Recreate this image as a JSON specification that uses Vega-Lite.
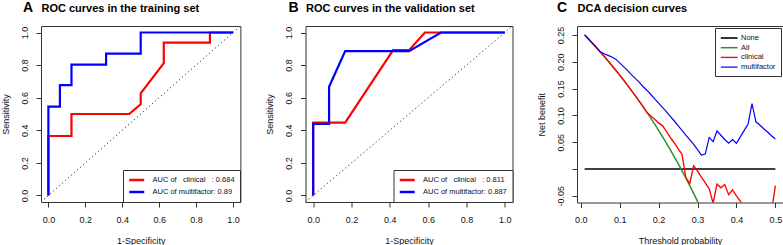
{
  "$schema": "https://vega.github.io/schema/vega-lite/v6.json",
  "padding": {"left": 0, "top": 0, "right": 0, "bottom": 0},
  "background": "white",
  "spacing": 64.5,
  "bounds": "flush",
  "config": {
    "font": "Liberation Sans",
    "view": {"stroke": "#333333", "strokeWidth": 1},
    "axis": {"grid": false, "domain": false, "tickColor": "#333333", "tickSize": 5, "labelFontSize": 9, "labelColor": "#111111", "titleFontSize": 9, "titleFontWeight": "normal", "titleColor": "#111111", "labelFont": "Liberation Sans", "titleFont": "Liberation Sans", "labelOverlap": false},
    "axisX": {"labelPadding": 8, "titlePadding": 12, "labelFlush": false},
    "axisY": {"labelAngle": 270, "labelAlign": "center", "labelBaseline": "bottom", "labelPadding": 7, "titlePadding": 10, "labelFlush": false},
    "title": {"anchor": "start", "frame": "group", "font": "Liberation Sans", "fontSize": 14, "fontWeight": "bold", "color": "#000000", "offset": -8, "dy": 5},
    "legend": {"title": null, "labelFont": "Liberation Sans", "labelColor": "#111111", "strokeColor": "#333333", "fillColor": "white", "padding": 5, "labelLimit": 300}
  },
  "datasets": {
    "diag": [{"fpr": -0.04, "tpr": -0.04}, {"fpr": 1.04, "tpr": 1.04}],
    "rocA": [
      {"model": "AUC of\u00a0\u00a0\u00a0clinical\u00a0\u00a0\u00a0: 0.684", "i": 0, "fpr": 0, "tpr": 0},
      {"model": "AUC of\u00a0\u00a0\u00a0clinical\u00a0\u00a0\u00a0: 0.684", "i": 1, "fpr": 0, "tpr": 0.365},
      {"model": "AUC of\u00a0\u00a0\u00a0clinical\u00a0\u00a0\u00a0: 0.684", "i": 2, "fpr": 0.125, "tpr": 0.365},
      {"model": "AUC of\u00a0\u00a0\u00a0clinical\u00a0\u00a0\u00a0: 0.684", "i": 3, "fpr": 0.125, "tpr": 0.5},
      {"model": "AUC of\u00a0\u00a0\u00a0clinical\u00a0\u00a0\u00a0: 0.684", "i": 4, "fpr": 0.4375, "tpr": 0.5},
      {"model": "AUC of\u00a0\u00a0\u00a0clinical\u00a0\u00a0\u00a0: 0.684", "i": 5, "fpr": 0.5, "tpr": 0.56},
      {"model": "AUC of\u00a0\u00a0\u00a0clinical\u00a0\u00a0\u00a0: 0.684", "i": 6, "fpr": 0.5, "tpr": 0.627},
      {"model": "AUC of\u00a0\u00a0\u00a0clinical\u00a0\u00a0\u00a0: 0.684", "i": 7, "fpr": 0.625, "tpr": 0.812},
      {"model": "AUC of\u00a0\u00a0\u00a0clinical\u00a0\u00a0\u00a0: 0.684", "i": 8, "fpr": 0.625, "tpr": 0.938},
      {"model": "AUC of\u00a0\u00a0\u00a0clinical\u00a0\u00a0\u00a0: 0.684", "i": 9, "fpr": 0.875, "tpr": 0.938},
      {"model": "AUC of\u00a0\u00a0\u00a0clinical\u00a0\u00a0\u00a0: 0.684", "i": 10, "fpr": 0.875, "tpr": 1},
      {"model": "AUC of\u00a0\u00a0\u00a0clinical\u00a0\u00a0\u00a0: 0.684", "i": 11, "fpr": 1, "tpr": 1},
      {"model": "AUC of multifactor: 0.89", "i": 0, "fpr": 0, "tpr": 0},
      {"model": "AUC of multifactor: 0.89", "i": 1, "fpr": 0, "tpr": 0.545},
      {"model": "AUC of multifactor: 0.89", "i": 2, "fpr": 0.0625, "tpr": 0.545},
      {"model": "AUC of multifactor: 0.89", "i": 3, "fpr": 0.0625, "tpr": 0.677},
      {"model": "AUC of multifactor: 0.89", "i": 4, "fpr": 0.125, "tpr": 0.677},
      {"model": "AUC of multifactor: 0.89", "i": 5, "fpr": 0.125, "tpr": 0.803},
      {"model": "AUC of multifactor: 0.89", "i": 6, "fpr": 0.3125, "tpr": 0.803},
      {"model": "AUC of multifactor: 0.89", "i": 7, "fpr": 0.3125, "tpr": 0.87},
      {"model": "AUC of multifactor: 0.89", "i": 8, "fpr": 0.5, "tpr": 0.87},
      {"model": "AUC of multifactor: 0.89", "i": 9, "fpr": 0.5, "tpr": 1},
      {"model": "AUC of multifactor: 0.89", "i": 10, "fpr": 1, "tpr": 1}
    ],
    "rocB": [
      {"model": "AUC of\u00a0\u00a0\u00a0clinical\u00a0\u00a0\u00a0: 0.811", "i": 0, "fpr": 0, "tpr": 0},
      {"model": "AUC of\u00a0\u00a0\u00a0clinical\u00a0\u00a0\u00a0: 0.811", "i": 1, "fpr": 0, "tpr": 0.447},
      {"model": "AUC of\u00a0\u00a0\u00a0clinical\u00a0\u00a0\u00a0: 0.811", "i": 2, "fpr": 0.167, "tpr": 0.447},
      {"model": "AUC of\u00a0\u00a0\u00a0clinical\u00a0\u00a0\u00a0: 0.811", "i": 3, "fpr": 0.417, "tpr": 0.892},
      {"model": "AUC of\u00a0\u00a0\u00a0clinical\u00a0\u00a0\u00a0: 0.811", "i": 4, "fpr": 0.5, "tpr": 0.892},
      {"model": "AUC of\u00a0\u00a0\u00a0clinical\u00a0\u00a0\u00a0: 0.811", "i": 5, "fpr": 0.583, "tpr": 1},
      {"model": "AUC of\u00a0\u00a0\u00a0clinical\u00a0\u00a0\u00a0: 0.811", "i": 6, "fpr": 1, "tpr": 1},
      {"model": "AUC of multifactor: 0.887", "i": 0, "fpr": 0, "tpr": 0},
      {"model": "AUC of multifactor: 0.887", "i": 1, "fpr": 0, "tpr": 0.44},
      {"model": "AUC of multifactor: 0.887", "i": 2, "fpr": 0.083, "tpr": 0.44},
      {"model": "AUC of multifactor: 0.887", "i": 3, "fpr": 0.083, "tpr": 0.667},
      {"model": "AUC of multifactor: 0.887", "i": 4, "fpr": 0.167, "tpr": 0.886},
      {"model": "AUC of multifactor: 0.887", "i": 5, "fpr": 0.5, "tpr": 0.886},
      {"model": "AUC of multifactor: 0.887", "i": 6, "fpr": 0.667, "tpr": 1},
      {"model": "AUC of multifactor: 0.887", "i": 7, "fpr": 1, "tpr": 1}
    ],
    "dcaNone": [{"s": "None", "t": 0.01, "nb": 0}, {"s": "None", "t": 0.5, "nb": 0}],
    "dca": [
      {"s": "All", "t": 0.01, "nb": 0.2502}, {"s": "All", "t": 0.02, "nb": 0.2425}, {"s": "All", "t": 0.03, "nb": 0.2347}, {"s": "All", "t": 0.04, "nb": 0.2268}, {"s": "All", "t": 0.05, "nb": 0.2186}, {"s": "All", "t": 0.06, "nb": 0.2103}, {"s": "All", "t": 0.07, "nb": 0.2018}, {"s": "All", "t": 0.08, "nb": 0.1932}, {"s": "All", "t": 0.09, "nb": 0.1843}, {"s": "All", "t": 0.10, "nb": 0.1752}, {"s": "All", "t": 0.11, "nb": 0.1660}, {"s": "All", "t": 0.12, "nb": 0.1565}, {"s": "All", "t": 0.13, "nb": 0.1468}, {"s": "All", "t": 0.14, "nb": 0.1369}, {"s": "All", "t": 0.15, "nb": 0.1267}, {"s": "All", "t": 0.16, "nb": 0.1163}, {"s": "All", "t": 0.17, "nb": 0.1057}, {"s": "All", "t": 0.18, "nb": 0.0948}, {"s": "All", "t": 0.19, "nb": 0.0836}, {"s": "All", "t": 0.20, "nb": 0.0721}, {"s": "All", "t": 0.21, "nb": 0.0604}, {"s": "All", "t": 0.22, "nb": 0.0483}, {"s": "All", "t": 0.23, "nb": 0.0360}, {"s": "All", "t": 0.24, "nb": 0.0233}, {"s": "All", "t": 0.25, "nb": 0.0103}, {"s": "All", "t": 0.26, "nb": -0.0031}, {"s": "All", "t": 0.27, "nb": -0.0168}, {"s": "All", "t": 0.28, "nb": -0.0310}, {"s": "All", "t": 0.29, "nb": -0.0455}, {"s": "All", "t": 0.30, "nb": -0.0604}, {"s": "All", "t": 0.31, "nb": -0.0758},
      {"s": "clinical", "t": 0.01, "nb": 0.2502}, {"s": "clinical", "t": 0.02, "nb": 0.2425}, {"s": "clinical", "t": 0.03, "nb": 0.2347}, {"s": "clinical", "t": 0.04, "nb": 0.2268}, {"s": "clinical", "t": 0.05, "nb": 0.2186}, {"s": "clinical", "t": 0.06, "nb": 0.2103}, {"s": "clinical", "t": 0.07, "nb": 0.2018}, {"s": "clinical", "t": 0.08, "nb": 0.1932}, {"s": "clinical", "t": 0.09, "nb": 0.1843}, {"s": "clinical", "t": 0.10, "nb": 0.1752}, {"s": "clinical", "t": 0.11, "nb": 0.1660}, {"s": "clinical", "t": 0.12, "nb": 0.1565}, {"s": "clinical", "t": 0.13, "nb": 0.1468}, {"s": "clinical", "t": 0.14, "nb": 0.1369}, {"s": "clinical", "t": 0.15, "nb": 0.1267}, {"s": "clinical", "t": 0.16, "nb": 0.1163}, {"s": "clinical", "t": 0.17, "nb": 0.1057}, {"s": "clinical", "t": 0.18, "nb": 0.099}, {"s": "clinical", "t": 0.19, "nb": 0.093}, {"s": "clinical", "t": 0.20, "nb": 0.086}, {"s": "clinical", "t": 0.21, "nb": 0.081}, {"s": "clinical", "t": 0.22, "nb": 0.070}, {"s": "clinical", "t": 0.23, "nb": 0.059}, {"s": "clinical", "t": 0.24, "nb": 0.049}, {"s": "clinical", "t": 0.25, "nb": 0.038}, {"s": "clinical", "t": 0.26, "nb": 0.028}, {"s": "clinical", "t": 0.27, "nb": -0.016}, {"s": "clinical", "t": 0.28, "nb": -0.027}, {"s": "clinical", "t": 0.29, "nb": 0.006}, {"s": "clinical", "t": 0.30, "nb": -0.004}, {"s": "clinical", "t": 0.31, "nb": -0.015}, {"s": "clinical", "t": 0.32, "nb": -0.026}, {"s": "clinical", "t": 0.33, "nb": -0.037}, {"s": "clinical", "t": 0.34, "nb": -0.064}, {"s": "clinical", "t": 0.35, "nb": -0.028}, {"s": "clinical", "t": 0.36, "nb": -0.035}, {"s": "clinical", "t": 0.37, "nb": -0.029}, {"s": "clinical", "t": 0.38, "nb": -0.048}, {"s": "clinical", "t": 0.39, "nb": -0.039}, {"s": "clinical", "t": 0.40, "nb": -0.050}, {"s": "clinical", "t": 0.41, "nb": -0.060}, {"s": "clinical", "t": 0.42, "nb": -0.075}, {"s": "clinical", "t": 0.43, "nb": -0.080}, {"s": "clinical", "t": 0.44, "nb": -0.064}, {"s": "clinical", "t": 0.45, "nb": -0.080}, {"s": "clinical", "t": 0.46, "nb": -0.080}, {"s": "clinical", "t": 0.47, "nb": -0.064}, {"s": "clinical", "t": 0.48, "nb": -0.080}, {"s": "clinical", "t": 0.49, "nb": -0.080}, {"s": "clinical", "t": 0.50, "nb": -0.031},
      {"s": "multifactor", "t": 0.01, "nb": 0.2502}, {"s": "multifactor", "t": 0.02, "nb": 0.2425}, {"s": "multifactor", "t": 0.03, "nb": 0.2347}, {"s": "multifactor", "t": 0.04, "nb": 0.2268}, {"s": "multifactor", "t": 0.05, "nb": 0.2186}, {"s": "multifactor", "t": 0.06, "nb": 0.215}, {"s": "multifactor", "t": 0.07, "nb": 0.212}, {"s": "multifactor", "t": 0.08, "nb": 0.209}, {"s": "multifactor", "t": 0.09, "nb": 0.205}, {"s": "multifactor", "t": 0.10, "nb": 0.198}, {"s": "multifactor", "t": 0.11, "nb": 0.191}, {"s": "multifactor", "t": 0.12, "nb": 0.184}, {"s": "multifactor", "t": 0.13, "nb": 0.176}, {"s": "multifactor", "t": 0.14, "nb": 0.169}, {"s": "multifactor", "t": 0.15, "nb": 0.162}, {"s": "multifactor", "t": 0.16, "nb": 0.154}, {"s": "multifactor", "t": 0.17, "nb": 0.147}, {"s": "multifactor", "t": 0.18, "nb": 0.139}, {"s": "multifactor", "t": 0.19, "nb": 0.131}, {"s": "multifactor", "t": 0.20, "nb": 0.123}, {"s": "multifactor", "t": 0.21, "nb": 0.115}, {"s": "multifactor", "t": 0.22, "nb": 0.107}, {"s": "multifactor", "t": 0.23, "nb": 0.098}, {"s": "multifactor", "t": 0.24, "nb": 0.090}, {"s": "multifactor", "t": 0.25, "nb": 0.081}, {"s": "multifactor", "t": 0.26, "nb": 0.072}, {"s": "multifactor", "t": 0.27, "nb": 0.063}, {"s": "multifactor", "t": 0.28, "nb": 0.055}, {"s": "multifactor", "t": 0.29, "nb": 0.046}, {"s": "multifactor", "t": 0.30, "nb": 0.036}, {"s": "multifactor", "t": 0.31, "nb": 0.026}, {"s": "multifactor", "t": 0.32, "nb": 0.028}, {"s": "multifactor", "t": 0.33, "nb": 0.059}, {"s": "multifactor", "t": 0.34, "nb": 0.051}, {"s": "multifactor", "t": 0.35, "nb": 0.071}, {"s": "multifactor", "t": 0.36, "nb": 0.063}, {"s": "multifactor", "t": 0.37, "nb": 0.055}, {"s": "multifactor", "t": 0.38, "nb": 0.048}, {"s": "multifactor", "t": 0.39, "nb": 0.055}, {"s": "multifactor", "t": 0.40, "nb": 0.048}, {"s": "multifactor", "t": 0.41, "nb": 0.060}, {"s": "multifactor", "t": 0.42, "nb": 0.072}, {"s": "multifactor", "t": 0.43, "nb": 0.084}, {"s": "multifactor", "t": 0.44, "nb": 0.122}, {"s": "multifactor", "t": 0.45, "nb": 0.088}, {"s": "multifactor", "t": 0.46, "nb": 0.082}, {"s": "multifactor", "t": 0.47, "nb": 0.075}, {"s": "multifactor", "t": 0.48, "nb": 0.069}, {"s": "multifactor", "t": 0.49, "nb": 0.062}, {"s": "multifactor", "t": 0.50, "nb": 0.056}
    ]
  },
  "resolve": {"scale": {"color": "independent", "strokeWidth": "independent", "x": "independent", "y": "independent"}, "legend": {"color": "independent"}},
  "hconcat": [
    {
      "width": 199.4, "height": 176,
      "title": {"text": "A", "dx": -18},
      "resolve": {"axis": {"x": "independent"}},
      "encoding": {
        "x": {"field": "fpr", "type": "quantitative", "scale": {"domain": [-0.04, 1.04], "nice": false, "zero": false}, "axis": {"title": "1-Specificity", "values": [0, 0.2, 0.4, 0.6, 0.8, 1], "format": ".1f", "labelOverlap": false}},
        "y": {"field": "tpr", "type": "quantitative", "scale": {"domain": [-0.04, 1.04], "nice": false, "zero": false}, "axis": {"title": "Sensitivity", "values": [0, 0.2, 0.4, 0.6, 0.8, 1], "format": ".1f", "labelOverlap": false}}
      },
      "layer": [
        {
          "data": {"name": "diag"},
          "mark": {"type": "line", "color": "#555555", "strokeWidth": 1, "strokeDash": [1.5, 2.5]}
        },
        {
          "data": {"name": "rocA"},
          "mark": {"type": "line", "strokeWidth": 2.2},
          "encoding": {
            "x": {"field": "fpr", "type": "quantitative", "scale": {"domain": [-0.04, 1.04], "nice": false, "zero": false},
              "axis": {"orient": "top", "ticks": false, "labels": false, "domain": false, "title": "ROC curves in the training set", "titleAnchor": "start", "titleAlign": "left", "titleBaseline": "alphabetic", "titleFontSize": 11, "titleFontWeight": "bold", "titleColor": "#000000", "titlePadding": 14.8}},
            "order": {"field": "i", "type": "quantitative"},
            "color": {"field": "model", "type": "nominal", "scale": {"domain": ["AUC of\u00a0\u00a0\u00a0clinical\u00a0\u00a0\u00a0: 0.684", "AUC of multifactor: 0.89"], "range": ["#ff0000", "#0000ff"]},
              "legend": {"orient": "bottom-right", "offset": 0, "symbolType": "M-1,0H3", "symbolSize": 56, "symbolStrokeWidth": 2.5, "labelFontSize": 7.5, "labelOffset": 14.5, "rowPadding": 2}}
          }
        }
      ]
    },
    {
      "width": 207, "height": 176,
      "title": {"text": "B", "dx": -17},
      "resolve": {"axis": {"x": "independent"}},
      "encoding": {
        "x": {"field": "fpr", "type": "quantitative", "scale": {"domain": [-0.04, 1.04], "nice": false, "zero": false}, "axis": {"title": "1-Specificity", "values": [0, 0.2, 0.4, 0.6, 0.8, 1], "format": ".1f", "labelOverlap": false}},
        "y": {"field": "tpr", "type": "quantitative", "scale": {"domain": [-0.04, 1.04], "nice": false, "zero": false}, "axis": {"title": "Sensitivity", "values": [0, 0.2, 0.4, 0.6, 0.8, 1], "format": ".1f", "labelOverlap": false}}
      },
      "layer": [
        {
          "data": {"name": "diag"},
          "mark": {"type": "line", "color": "#555555", "strokeWidth": 1, "strokeDash": [1.5, 2.5]}
        },
        {
          "data": {"name": "rocB"},
          "mark": {"type": "line", "strokeWidth": 2.2},
          "encoding": {
            "x": {"field": "fpr", "type": "quantitative", "scale": {"domain": [-0.04, 1.04], "nice": false, "zero": false},
              "axis": {"orient": "top", "ticks": false, "labels": false, "domain": false, "title": "ROC curves in the validation set", "titleAnchor": "start", "titleAlign": "left", "titleBaseline": "alphabetic", "titleFontSize": 11, "titleFontWeight": "bold", "titleColor": "#000000", "titlePadding": 14.8}},
            "order": {"field": "i", "type": "quantitative"},
            "color": {"field": "model", "type": "nominal", "scale": {"domain": ["AUC of\u00a0\u00a0\u00a0clinical\u00a0\u00a0\u00a0: 0.811", "AUC of multifactor: 0.887"], "range": ["#ff0000", "#0000ff"]},
              "legend": {"orient": "bottom-right", "offset": 0, "symbolType": "M-1,0H3", "symbolSize": 56, "symbolStrokeWidth": 2.5, "labelFontSize": 7.5, "labelOffset": 14.5, "rowPadding": 2}}
          }
        }
      ]
    },
    {
      "width": 206, "height": 176.5,
      "title": {"text": "C", "dx": -20},
      "resolve": {"axis": {"x": "independent"}},
      "encoding": {
        "x": {"field": "t", "type": "quantitative", "scale": {"domain": [-0.0096, 0.5196], "nice": false, "zero": false}, "axis": {"title": "Threshold probability", "values": [0, 0.1, 0.2, 0.3, 0.4, 0.5], "format": ".1f", "labelOverlap": false}},
        "y": {"field": "nb", "type": "quantitative", "scale": {"domain": [-0.0625, 0.2668], "nice": false, "zero": false}, "axis": {"title": "Net benefit", "values": [-0.05, 0, 0.05, 0.1, 0.15, 0.2, 0.25], "labelOverlap": false, "labelExpr": "datum.value == 0 ? '' : replace(format(datum.value, '.2f'), '\u2212', '-')"}},
        "color": {"field": "s", "type": "nominal", "scale": {"domain": ["None", "All", "clinical", "multifactor"], "range": ["#000000", "#2e8b2e", "#ff0000", "#0000ff"]},
          "legend": {"orient": "top-right", "offset": 2, "symbolType": "M-1,0H3", "symbolSize": 70, "symbolStrokeWidth": 1.6, "labelFontSize": 7.5, "labelOffset": 11, "rowPadding": 0.7}},
        "strokeWidth": {"field": "s", "type": "nominal", "scale": {"domain": ["None", "All", "clinical", "multifactor"], "range": [1.6, 1.2, 2, 2]}, "legend": null}
      },
      "layer": [
        {
          "data": {"name": "dcaNone"},
          "mark": {"type": "line", "clip": true},
          "encoding": {
            "x": {"field": "t", "type": "quantitative", "scale": {"domain": [-0.0096, 0.5196], "nice": false, "zero": false},
              "axis": {"orient": "top", "ticks": false, "labels": false, "domain": false, "title": "DCA decision curves", "titleAnchor": "start", "titleAlign": "left", "titleBaseline": "alphabetic", "titleFontSize": 11, "titleFontWeight": "bold", "titleColor": "#000000", "titlePadding": 14.8}}
          }
        },
        {
          "data": {"name": "dca"},
          "mark": {"type": "line", "clip": true}
        }
      ]
    }
  ]
}
